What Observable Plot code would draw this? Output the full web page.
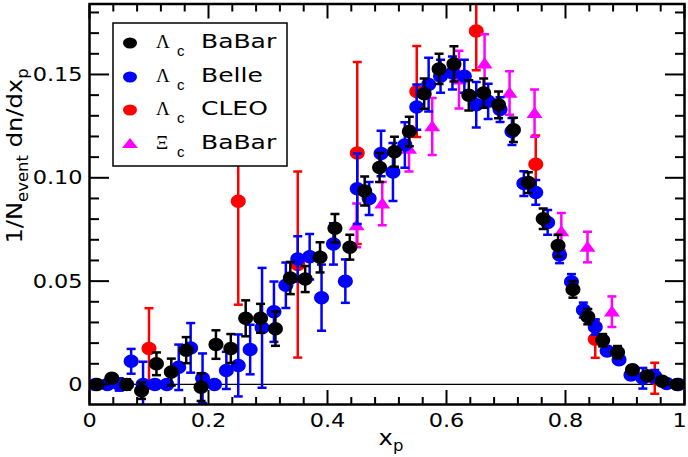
<!DOCTYPE html>
<html><head><meta charset="utf-8">
<script src="https://cdn.jsdelivr.net/npm/d3@7"></script>
<script src="https://cdn.jsdelivr.net/npm/@observablehq/plot@0.6"></script>
<style>body{margin:0;background:#fff}</style>
</head><body><div id="chart"></div>
<script>
// Λc BaBar
const babarX = [0.0125,0.0375,0.0625,0.0875,0.1125,0.1375,0.1625,0.1875,0.2125,0.2375,0.2625,0.2875,0.3125,0.3375,0.3625,0.3875,0.4125,0.4375,0.4625,0.4875,0.5125,0.5375,0.5625,0.5875,0.6125,0.6375,0.6625,0.6875,0.7125,0.7375,0.7625,0.7875,0.8125,0.8375,0.8625,0.8875,0.9125,0.9375,0.9625,0.9875];
const babarY = [0.000,0.003,0.000,-0.003,0.010,0.006,0.0166,-0.0013,0.0193,0.0174,0.032,0.032,0.027,0.0515,0.051,0.0615,0.0756,0.0664,0.0936,0.105,0.1126,0.1224,0.1407,0.1527,0.1551,0.1399,0.141,0.1353,0.1232,0.0977,0.0802,0.0672,0.046,0.0328,0.0214,0.0156,0.0071,0.0042,0.0015,0.000];
const babarErr = [0.002,0.002,0.0025,0.004,0.0055,0.0065,0.0063,0.0067,0.0069,0.007,0.0087,0.007,0.0083,0.0078,0.0063,0.0073,0.0069,0.006,0.007,0.007,0.0073,0.0071,0.0073,0.0073,0.0085,0.0073,0.0071,0.0065,0.0059,0.005,0.005,0.0053,0.004,0.0037,0.003,0.003,0.002,0.002,0.0015,0.001];
// Λc Belle
const belleX = [0.01,0.03,0.05,0.07,0.09,0.11,0.13,0.15,0.17,0.19,0.21,0.23,0.25,0.27,0.29,0.31,0.33,0.35,0.37,0.39,0.41,0.43,0.45,0.47,0.49,0.51,0.53,0.55,0.57,0.59,0.61,0.63,0.65,0.67,0.69,0.71,0.73,0.75,0.77,0.79,0.81,0.83,0.85,0.87,0.89,0.91,0.93,0.95,0.97,0.99];
const belleY = [0,0,0,0.0112,0,0,0,0.0083,0.0177,0.003,0,0.0068,0.0092,0.0169,0.0274,0.0352,0.048,0.0607,0.0618,0.042,0.068,0.050,0.0947,0.090,0.1118,0.1028,0.1159,0.1342,0.1451,0.1491,0.1507,0.1491,0.1353,0.137,0.133,0.1224,0.0972,0.0929,0.0784,0.0627,0.0497,0.036,0.0278,0.0162,0.012,0.0046,0.003,0.004,0.0005,0];
const belleErr = [0.002,0.002,0.003,0.006,0.011,0.002,0.002,0.011,0.012,0.012,0.002,0.009,0.015,0.012,0.029,0.0146,0.011,0.011,0.011,0.016,0.010,0.0105,0.017,0.008,0.011,0.014,0.011,0.011,0.013,0.008,0.008,0.008,0.011,0.0085,0.006,0.0065,0.006,0.006,0.006,0.004,0.0037,0.0036,0.0037,0.002,0.002,0.002,0.005,0.003,0.002,0.001];
// Λc CLEO
const cleoX = [0.10,0.25,0.35,0.45,0.55,0.65,0.75,0.85,0.95];
const cleoY = [0.0174,0.0886,0.058,0.112,0.1418,0.171,0.1065,0.0219,0.003];
const cleoErr = [0.0195,0.050,0.045,0.044,0.022,0.019,0.014,0.009,0.0075];
// Ξc BaBar
const xiX = [0.449,0.492,0.537,0.576,0.621,0.664,0.706,0.748,0.793,0.837,0.878];
const xiY = [0.077,0.0875,0.114,0.1248,0.1475,0.1552,0.141,0.1313,0.074,0.0665,0.0352];
const xiErr = [0.0106,0.0105,0.011,0.0138,0.014,0.0143,0.0105,0.0114,0.009,0.0074,0.0074];

const xMajor = [0,0.2,0.4,0.6,0.8,1];
const xMinor = [0.04,0.08,0.12,0.16,0.24,0.28,0.32,0.36,0.44,0.48,0.52,0.56,0.64,0.68,0.72,0.76,0.84,0.88,0.92,0.96];
const yMajor = [0,0.05,0.10,0.15];
const yMinor = [0.01,0.02,0.03,0.04,0.06,0.07,0.08,0.09,0.11,0.12,0.13,0.14,0.16,0.17,0.18];

const legendGreek = ["Λ","Λ","Λ","Ξ"];
const legendNames = ["BaBar","Belle","CLEO","BaBar"];
const legendColors = ["#000000","#0000ff","#ff0000","#ff00ff"];
const legendShapes = ["circle","circle","circle","triangle"];

const rows = (xs, ys, es) => xs.map((x, i) => ({x, y: ys[i], e: es[i]}));

const capSymbol = {draw(ctx, size) { const w = Math.sqrt(size / Math.PI); ctx.moveTo(-w, 0); ctx.lineTo(w, 0); }};
const ellipseSymbol = {draw(ctx, size) {
  const rx = Math.sqrt(size / Math.PI), ry = rx * 0.9, k = 0.5523;
  ctx.moveTo(rx, 0);
  ctx.bezierCurveTo(rx, ry * k, rx * k, ry, 0, ry);
  ctx.bezierCurveTo(-rx * k, ry, -rx, ry * k, -rx, 0);
  ctx.bezierCurveTo(-rx, -ry * k, -rx * k, -ry, 0, -ry);
  ctx.bezierCurveTo(rx * k, -ry, rx, -ry * k, rx, 0);
  ctx.closePath();
}};
const triSymbol = {draw(ctx, size) {
  const r = Math.sqrt(size / Math.PI);
  ctx.moveTo(0, -r * 0.8); ctx.lineTo(r, r * 0.6); ctx.lineTo(-r, r * 0.6); ctx.closePath();
}};

function series(data, color, symbol, r) {
  return [
    Plot.ruleX(data, {x: "x", y1: d => d.y - d.e, y2: d => d.y + d.e, stroke: color, strokeWidth: 2.5, clip: true}),
    Plot.dot(data, {x: "x", y: d => d.y + d.e, symbol: capSymbol, r: 4.5, stroke: color, fill: "none", strokeWidth: 2.5, clip: true}),
    Plot.dot(data, {x: "x", y: d => d.y - d.e, symbol: capSymbol, r: 4.5, stroke: color, fill: "none", strokeWidth: 2.5, clip: true}),
    Plot.dot(data, {x: "x", y: "y", symbol, r, fill: color, stroke: "none", clip: true})
  ];
}

const blank = () => "";
const chart = Plot.plot({
  width: 688, height: 457,
  marginLeft: 89, marginRight: 4, marginTop: 3.5, marginBottom: 53,
  style: {fontFamily: "DejaVu Sans", fontSize: "20px", background: "white", color: "black"},
  x: {domain: [0, 1]},
  y: {domain: [-0.0097, 0.1841]},
  marks: [
    Plot.ruleY([0], {stroke: "black", strokeWidth: 1.3}),
    ...series(rows(cleoX, cleoY, cleoErr), "#ff0000", ellipseSymbol, 7.5),
    ...series(rows(xiX, xiY, xiErr), "#ff00ff", triSymbol, 8),
    ...series(rows(belleX, belleY, belleErr), "#0000ff", ellipseSymbol, 7.5),
    ...series(rows(babarX, babarY, babarErr), "#000000", ellipseSymbol, 7.5),
    Plot.axisX(xMajor, {anchor: "bottom", tickSize: 0, tickPadding: 8, fontSize: 20, label: null,
      tickFormat: d => (d === 0 || d === 1) ? String(d) : d.toFixed(1)}),
    Plot.axisX(xMajor, {anchor: "bottom", tickSize: -14, strokeWidth: 2, tickFormat: blank, label: null}),
    Plot.axisX(xMinor, {anchor: "bottom", tickSize: -7, strokeWidth: 2, tickFormat: blank, label: null}),
    Plot.axisX(xMajor, {anchor: "top", tickSize: -14, strokeWidth: 2, tickFormat: blank, label: null}),
    Plot.axisX(xMinor, {anchor: "top", tickSize: -7, strokeWidth: 2, tickFormat: blank, label: null}),
    Plot.axisY(yMajor, {anchor: "left", tickSize: 0, tickPadding: 7, fontSize: 20, label: null,
      tickFormat: d => d === 0 ? "0" : d.toFixed(2)}),
    Plot.axisY(yMajor, {anchor: "left", tickSize: -20, strokeWidth: 2, tickFormat: blank, label: null}),
    Plot.axisY(yMinor, {anchor: "left", tickSize: -10, strokeWidth: 2, tickFormat: blank, label: null}),
    Plot.axisY(yMajor, {anchor: "right", tickSize: -20, strokeWidth: 2, tickFormat: blank, label: null}),
    Plot.axisY(yMinor, {anchor: "right", tickSize: -10, strokeWidth: 2, tickFormat: blank, label: null}),
    Plot.frame({stroke: "black", strokeWidth: 2.5})
  ]
});
document.getElementById("chart").appendChild(chart);

const svg = d3.select(chart);
// widen tick labels like the original's wide font
svg.selectAll('g[aria-label="x-axis tick label"] text, g[aria-label="y-axis tick label"] text')
  .attr("transform", function() {
    const t = this.getAttribute("transform") || "";
    const shift = this.textContent === "1" ? " translate(-5,0)" : "";
    return t + shift + " scale(1.12,1)";
  });

// axis titles
const yl = svg.append("text")
  .attr("transform", "translate(22,156) rotate(-90) scale(1.1,1)")
  .attr("text-anchor", "middle").attr("font-family", "DejaVu Sans").attr("font-size", 22).attr("fill", "black");
yl.append("tspan").text("1/N");
yl.append("tspan").attr("font-size", 15).attr("dy", 6).text("event");
yl.append("tspan").attr("dy", -6).text(" dn/dx");
yl.append("tspan").attr("font-size", 15).attr("dy", 6).text("p");

const xl = svg.append("text")
  .attr("transform", "translate(391,445) scale(1.1,1)")
  .attr("text-anchor", "middle").attr("font-family", "DejaVu Sans").attr("font-size", 22).attr("fill", "black");
xl.append("tspan").text("x");
xl.append("tspan").attr("font-size", 15).attr("dy", 6).text("p");

// legend
const lg = svg.append("g").attr("text-anchor", "start");
lg.append("rect").attr("x", 113).attr("y", 23).attr("width", 174).attr("height", 143)
  .attr("fill", "white").attr("stroke", "black").attr("stroke-width", 1.5);
const rowY = [43, 77, 110, 144];
legendNames.forEach((name, i) => {
  const y = rowY[i];
  if (legendShapes[i] === "circle") {
    lg.append("ellipse").attr("cx", 130).attr("cy", y).attr("rx", 7).attr("ry", 5.5).attr("fill", legendColors[i]);
  } else {
    lg.append("path").attr("d", `M130,${y - 6}L138,${y + 4}L122,${y + 4}Z`).attr("fill", legendColors[i]);
  }
  lg.append("text").attr("x", 156).attr("y", y + 5).attr("text-anchor", "start").attr("font-family", "Liberation Serif")
    .attr("font-size", 19).attr("fill", "black").text(legendGreek[i]);
  lg.append("text").attr("x", 177).attr("y", y + 13).attr("text-anchor", "start").attr("font-family", "Liberation Sans")
    .attr("font-size", 15).attr("fill", "black").text("c");
  lg.append("text").attr("transform", `translate(201,${y + 5}) scale(1.25,1)`).attr("text-anchor", "start")
    .attr("font-family", "DejaVu Sans").attr("font-size", 20).attr("fill", "black").text(name);
});
</script></body></html>
